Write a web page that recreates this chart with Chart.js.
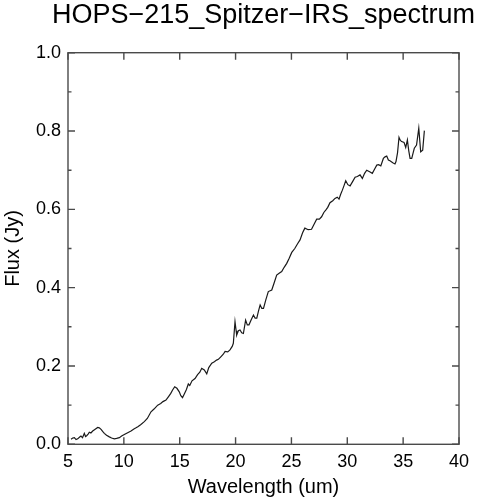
<!DOCTYPE html>
<html>
<head>
<meta charset="utf-8">
<script src="https://cdn.jsdelivr.net/npm/chart.js@4.4.0/dist/chart.umd.min.js"></script>
<style>
  html, body { margin: 0; padding: 0; background: #fff; }
</style>
</head>
<body>
<canvas id="myChart" width="479" height="500"></canvas>
<script>
const chartTitle = 'HOPS\u2212215_Spitzer\u2212IRS_spectrum'
const xLabel = 'Wavelength (um)'
const yLabel = 'Flux (Jy)'

// wavelength (um)
const wavelength = [
  5.27, 5.42, 5.57, 5.72, 5.87, 6.02, 6.16, 6.3, 6.46, 6.57, 6.67, 6.8, 6.91, 7.05, 7.21, 7.4,
  7.66, 7.8, 7.96, 8.1, 8.25, 8.45, 8.7, 8.9, 9.15, 9.35, 9.6, 9.8, 10.04, 10.3, 10.64, 10.9,
  11.09, 11.25, 11.5, 11.83, 12.1, 12.43, 12.7, 13.03, 13.3, 13.5, 13.77, 14.0, 14.2, 14.35,
  14.55, 14.75, 14.96, 15.1, 15.25, 15.4, 15.6, 15.77, 15.9, 16.1, 16.37, 16.6, 16.8, 16.97,
  17.2, 17.42, 17.6, 17.87, 18.1, 18.3, 18.46, 18.7, 18.9, 19.06, 19.3, 19.5, 19.7, 19.8,
  19.95, 20.05, 20.1, 20.25, 20.4, 20.55, 20.7, 20.9, 21.05, 21.2, 21.4, 21.6, 21.75, 21.9,
  22.05, 22.2, 22.35, 22.5, 22.7, 22.93, 23.24, 23.45, 23.68, 23.9, 24.13, 24.35, 24.58, 24.8,
  25.03, 25.3, 25.55, 25.77, 26.0, 26.2, 26.5, 26.8, 27.05, 27.26, 27.5, 27.7, 27.9, 28.07,
  28.25, 28.45, 28.7, 28.9, 29.1, 29.26, 29.4, 29.56, 29.7, 29.86, 30.05, 30.25, 30.5, 30.7,
  30.9, 31.14, 31.35, 31.55, 31.74, 32.0, 32.24, 32.45, 32.64, 32.8, 33.0, 33.23, 33.38, 33.53,
  33.68, 33.82, 34.07, 34.27, 34.36, 34.5, 34.63, 34.75, 34.87, 35.08, 35.23, 35.38, 35.5,
  35.62, 35.77, 35.9, 36.0, 36.2, 36.4, 36.57, 36.75, 36.9
]

// flux (Jy)
const flux = [
  0.013, 0.016, 0.017, 0.012, 0.014, 0.018, 0.021, 0.017, 0.028, 0.020, 0.022, 0.026, 0.031, 0.029, 0.034, 0.038,
  0.043, 0.042, 0.038, 0.033, 0.028, 0.023, 0.019, 0.016, 0.014, 0.015, 0.017, 0.021, 0.025, 0.029, 0.034, 0.039,
  0.042, 0.045, 0.050, 0.058, 0.066, 0.083, 0.090, 0.100, 0.104, 0.109, 0.113, 0.122, 0.130, 0.138,
  0.147, 0.143, 0.134, 0.124, 0.119, 0.128, 0.140, 0.154, 0.150, 0.162, 0.168, 0.178, 0.184, 0.194,
  0.190, 0.180, 0.196, 0.207, 0.211, 0.215, 0.217, 0.224, 0.230, 0.237, 0.236, 0.241, 0.250, 0.258,
  0.313, 0.290, 0.279, 0.290, 0.292, 0.285, 0.283, 0.317, 0.305, 0.305, 0.318, 0.330, 0.322, 0.322,
  0.340, 0.356, 0.347, 0.347, 0.368, 0.390, 0.394, 0.412, 0.432, 0.437, 0.441, 0.452, 0.462, 0.475,
  0.490, 0.500, 0.512, 0.522, 0.540, 0.552, 0.548, 0.549, 0.563, 0.575, 0.575, 0.581, 0.592, 0.598,
  0.605, 0.617, 0.622, 0.628, 0.631, 0.626, 0.638, 0.649, 0.660, 0.673, 0.663, 0.660, 0.672, 0.682,
  0.684, 0.688, 0.679, 0.692, 0.700, 0.696, 0.692, 0.703, 0.713, 0.714, 0.711, 0.730, 0.734, 0.736,
  0.726, 0.724, 0.719, 0.716, 0.722, 0.745, 0.784, 0.776, 0.773, 0.771, 0.758, 0.777, 0.750,
  0.730, 0.730, 0.745, 0.756, 0.764, 0.807, 0.747, 0.751, 0.801
]

const xTicks = [5, 10, 15, 20, 25, 30, 35, 40]
const yTicks = [0.0, 0.2, 0.4, 0.6, 0.8, 1.0]
const yMinorTicks = [0.1, 0.3, 0.5, 0.7, 0.9]

const fontFamily = '"Liberation Sans", Arial, Helvetica, sans-serif'
const frameColor = '#4a4a4a'

// IDL-style box: frame on all sides, ticks pointing inward, title centred over the plot
const frameTicks = {
  id: 'frameTicks',
  afterDatasetsDraw(chart) {
    const { ctx, chartArea: { left, right, top, bottom }, scales: { x, y } } = chart
    ctx.save()
    ctx.strokeStyle = frameColor
    ctx.lineWidth = 1.4
    ctx.strokeRect(left, top, right - left, bottom - top)

    ctx.beginPath()
    xTicks.forEach(v => {
      const px = x.getPixelForValue(v)
      ctx.moveTo(px, bottom)
      ctx.lineTo(px, bottom - 7)
      ctx.moveTo(px, top)
      ctx.lineTo(px, top + 7)
    })
    yTicks.forEach(v => {
      const py = y.getPixelForValue(v)
      ctx.moveTo(left, py)
      ctx.lineTo(left + 7, py)
      ctx.moveTo(right, py)
      ctx.lineTo(right - 7, py)
    })
    yMinorTicks.forEach(v => {
      const py = y.getPixelForValue(v)
      ctx.moveTo(left, py)
      ctx.lineTo(left + 3.5, py)
      ctx.moveTo(right, py)
      ctx.lineTo(right - 3.5, py)
    })
    ctx.stroke()

    ctx.fillStyle = '#000'
    ctx.font = `27px ${fontFamily}`
    ctx.textAlign = 'center'
    ctx.textBaseline = 'alphabetic'
    ctx.fillText(chartTitle, (left + right) / 2, top - 29.5)
    ctx.restore()
  }
}

const chartCanvas = document.getElementById('myChart')

new Chart(chartCanvas, {
  type: 'line',
  data: {
    datasets: [{
      data: wavelength.map((w, i) => ({ x: w, y: flux[i] })),
      borderColor: '#1a1a1a',
      borderWidth: 1.2,
      pointRadius: 0,
      tension: 0,
      fill: false
    }]
  },
  options: {
    responsive: false,
    animation: false,
    layout: { padding: { left: 0, right: 20, top: 52.7, bottom: 0 } },
    plugins: {
      legend: { display: false },
      tooltip: { enabled: false },
      title: { display: false }
    },
    scales: {
      x: {
        type: 'linear',
        min: 5,
        max: 40,
        afterFit: (scale) => { scale.height = 55.7 },
        afterBuildTicks: (scale) => { scale.ticks = xTicks.map(v => ({ value: v })) },
        grid: { display: false, drawTicks: false },
        border: { display: false },
        ticks: {
          color: '#000',
          padding: 7,
          maxRotation: 0,
          font: { family: fontFamily, size: 18 }
        },
        title: {
          display: true,
          text: xLabel,
          color: '#000',
          font: { family: fontFamily, size: 20 },
          padding: { top: 0, bottom: 1 }
        }
      },
      y: {
        type: 'linear',
        min: 0,
        max: 1,
        afterFit: (scale) => { scale.width = 68 },
        afterBuildTicks: (scale) => { scale.ticks = yTicks.map(v => ({ value: v })) },
        grid: { display: false, drawTicks: false },
        border: { display: false },
        ticks: {
          color: '#000',
          padding: 7,
          font: { family: fontFamily, size: 18 },
          callback: (v) => v.toFixed(1)
        },
        title: {
          display: true,
          text: yLabel,
          color: '#000',
          font: { family: fontFamily, size: 20 },
          padding: { top: 1, bottom: 0 }
        }
      }
    }
  },
  plugins: [frameTicks]
})
</script>
</body>
</html>
